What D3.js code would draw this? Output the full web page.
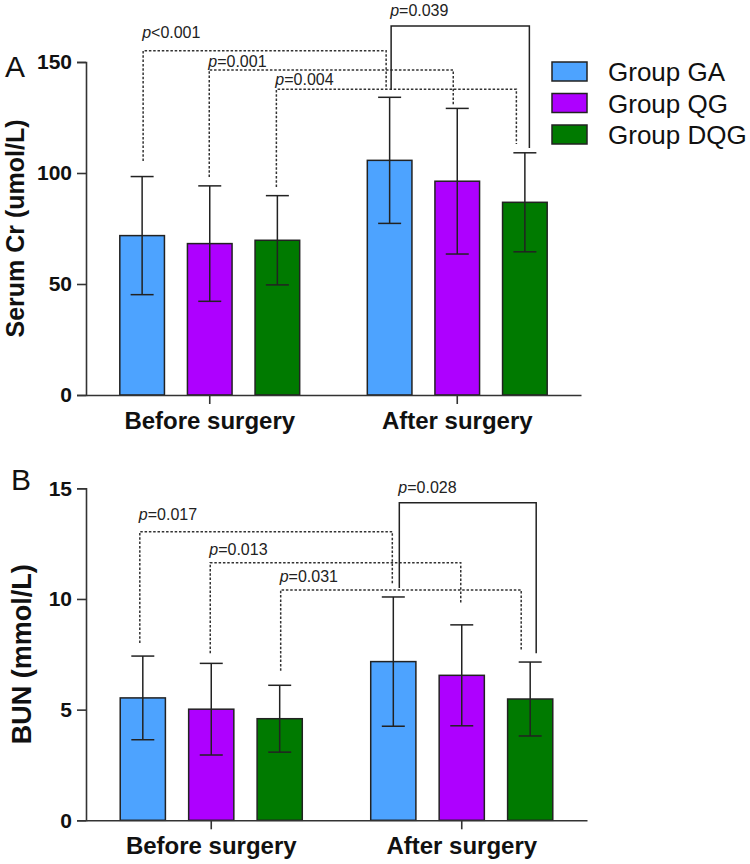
<!DOCTYPE html>
<html>
<head>
<meta charset="utf-8">
<script src="https://cdn.jsdelivr.net/npm/d3@7/dist/d3.min.js"></script>
<style>
  html, body { margin: 0; padding: 0; background: #fff; }
  svg { display: block; font-family: "Liberation Sans", Arial, sans-serif; }
</style>
</head>
<body>
<svg id="chart" width="750" height="864"></svg>
<script>
// ---------------- DATA ----------------
const categories = ["Before surgery", "After surgery"];
const groups = ["Group GA", "Group QG", "Group DQG"];
const colors = ["#4DA3FF", "#AE00FF", "#007A00"];

// Panel A: Serum Cr (umol/L), mean and SD per group, [before, after]
const crTicks = [0, 50, 100, 150];
const crGA_mean  = [71.8, 105.7];
const crQG_mean  = [68.2, 96.3];
const crDQG_mean = [69.7, 86.8];
const crGA_sd  = [26.6, 28.4];
const crQG_sd  = [26.0, 32.8];
const crDQG_sd = [20.1, 22.3];

// Panel B: BUN (mmol/L)
const bunTicks = [0, 5, 10, 15];
const bunGA_mean  = [5.53, 7.17];
const bunQG_mean  = [5.02, 6.55];
const bunDQG_mean = [4.59, 5.48];
const bunGA_sd  = [1.89, 2.92];
const bunQG_sd  = [2.07, 2.28];
const bunDQG_sd = [1.51, 1.67];

// Significance brackets: [cat, group] endpoints, top value, left/right bottom values, label value
const crBrackets = [
  { label: "<0.001", from: [0, 0], to: [1, 0], top: 155.1, leftEnd: 105.4, rightEnd: 137.8, labelAt: 160.8, dashed: true },
  { label: "=0.001", from: [0, 1], to: [1, 1], top: 146.4, leftEnd: 98.2,  rightEnd: 130.6, labelAt: 147.7, dashed: true },
  { label: "=0.004", from: [0, 2], to: [1, 2], top: 137.7, leftEnd: 93.7,  rightEnd: 113.1, labelAt: 139.6, dashed: true },
  { label: "=0.039", from: [1, 0], to: [1, 2], top: 166.2, leftEnd: 137.4, rightEnd: 111.3, labelAt: 170.7, dashed: false }
];
const bunBrackets = [
  { label: "=0.017", from: [0, 0], to: [1, 0], top: 13.04, leftEnd: 8.01, rightEnd: 10.68, labelAt: 13.57, dashed: true },
  { label: "=0.013", from: [0, 1], to: [1, 1], top: 11.64, leftEnd: 7.55, rightEnd: 9.80,  labelAt: 11.99, dashed: true },
  { label: "=0.031", from: [0, 2], to: [1, 2], top: 10.41, leftEnd: 6.76, rightEnd: 7.72,  labelAt: 10.78, dashed: true },
  { label: "=0.028", from: [1, 0], to: [1, 2], top: 14.35, leftEnd: 10.50, rightEnd: 7.55, labelAt: 14.79, dashed: false }
];

// ---------------- STYLE / LAYOUT ----------------
// small horizontal nudges (px) of bracket legs relative to bar centres
const crNudge  = [[1, -3.5], [-0.5, -4], [-1, -8.5], [1.5, 4.5]];
const bunNudge = [[-3, -1], [-1, -1], [1, -9], [6, 6]];

const svg = d3.select("#chart");
const INK = "#222";

function drawPanel(cfg) {
  const g = svg.append("g");
  const y = d3.scaleLinear().domain(cfg.domain).range([cfg.y0, cfg.y1]);
  const x0 = d3.scaleBand().domain(categories).range([cfg.xl, cfg.xr]).paddingInner(0).paddingOuter(0);
  const x1 = d3.scaleBand().domain(groups).range([0, x0.bandwidth()]).paddingInner(0.34).paddingOuter(0.5);

  const rows = [];
  categories.forEach((c, ci) => {
    groups.forEach((gr, gi) => {
      rows.push({ c, ci, gr, gi, mean: cfg.means[gi][ci], sd: cfg.sds[gi][ci] });
    });
  });
  const cx = (ci, gi) => x0(categories[ci]) + x1(groups[gi]) + x1.bandwidth() / 2;

  // bars
  g.selectAll("rect.bar").data(rows).join("rect")
    .attr("class", "bar")
    .attr("x", d => x0(d.c) + x1(d.gr))
    .attr("width", x1.bandwidth())
    .attr("y", d => y(d.mean))
    .attr("height", d => y(0) - y(d.mean))
    .attr("fill", d => colors[d.gi])
    .attr("stroke", INK)
    .attr("stroke-width", 1.5);

  // error bars
  const cap = 11.5;
  const eb = g.selectAll("g.eb").data(rows).join("g").attr("class", "eb")
    .attr("stroke", INK).attr("stroke-width", 1.5);
  eb.append("line")
    .attr("x1", d => cx(d.ci, d.gi)).attr("x2", d => cx(d.ci, d.gi))
    .attr("y1", d => y(d.mean - d.sd)).attr("y2", d => y(d.mean + d.sd));
  eb.append("line")
    .attr("x1", d => cx(d.ci, d.gi) - cap).attr("x2", d => cx(d.ci, d.gi) + cap)
    .attr("y1", d => y(d.mean + d.sd)).attr("y2", d => y(d.mean + d.sd));
  eb.append("line")
    .attr("x1", d => cx(d.ci, d.gi) - cap).attr("x2", d => cx(d.ci, d.gi) + cap)
    .attr("y1", d => y(d.mean - d.sd)).attr("y2", d => y(d.mean - d.sd));

  // y axis
  const yAxis = g.append("g").attr("transform", `translate(${cfg.xl},0)`)
    .call(d3.axisLeft(y).tickValues(cfg.ticks).tickSize(9).tickPadding(5).tickFormat(d3.format("d")));
  yAxis.select(".domain").attr("stroke", "#333").attr("stroke-width", 1.6);
  yAxis.selectAll(".tick line").attr("stroke", "#333").attr("stroke-width", 1.6);
  yAxis.selectAll(".tick text").attr("font-size", 21).attr("font-weight", "bold")
    .attr("fill", "#111").attr("font-family", "Liberation Sans, Arial, sans-serif");

  // x axis
  const xAxis = g.append("g").attr("transform", `translate(0,${cfg.y0})`)
    .call(d3.axisBottom(x0).tickSize(9).tickSizeOuter(0).tickPadding(0).tickFormat(""));
  xAxis.select(".domain").attr("stroke", "#333").attr("stroke-width", 1.6);
  xAxis.selectAll(".tick line").attr("stroke", "#333").attr("stroke-width", 1.6);
  g.selectAll("text.xl").data(categories).join("text")
    .attr("class", "xl")
    .attr("x", d => x0(d) + x0.bandwidth() / 2)
    .attr("y", cfg.xLabelY)
    .attr("text-anchor", "middle")
    .attr("font-size", 24).attr("font-weight", "bold").attr("fill", "#111")
    .text(d => d);

  // y title
  g.append("text")
    .attr("transform", `translate(${cfg.titleX},${(cfg.y0 + cfg.y1) / 2}) rotate(-90)`)
    .attr("text-anchor", "middle")
    .attr("font-size", cfg.titleSize).attr("font-weight", "bold").attr("fill", "#111")
    .text(cfg.title);

  // panel letter
  g.append("text").attr("x", cfg.letterX).attr("y", cfg.letterY)
    .attr("font-size", 30).attr("fill", "#111").text(cfg.letter);

  // brackets
  cfg.brackets.forEach((b, i) => {
    const xa = cx(b.from[0], b.from[1]) + cfg.nudge[i][0];
    const xb = cx(b.to[0], b.to[1]) + cfg.nudge[i][1];
    const path = d3.path();
    path.moveTo(xa, y(b.leftEnd));
    path.lineTo(xa, y(b.top));
    path.lineTo(xb, y(b.top));
    path.lineTo(xb, y(b.rightEnd));
    g.append("path").attr("d", path.toString())
      .attr("fill", "none")
      .attr("stroke", b.dashed ? "#333" : INK)
      .attr("stroke-width", 1.5)
      .attr("stroke-dasharray", b.dashed ? "2.5,1.8" : null);
    const t = g.append("text").attr("x", xa - 1).attr("y", y(b.labelAt))
      .attr("font-size", 16).attr("fill", "#222");
    t.append("tspan").attr("font-style", "italic").text("p");
    t.append("tspan").text(b.label);
  });
}

drawPanel({
  domain: [0, 150], y0: 395, y1: 62, xl: 86, xr: 581,
  ticks: crTicks,
  means: [crGA_mean, crQG_mean, crDQG_mean],
  sds: [crGA_sd, crQG_sd, crDQG_sd],
  xLabelY: 428.5,
  title: "Serum Cr (umol/L)", titleX: 24, titleSize: 25,
  letter: "A", letterX: 5, letterY: 77,
  brackets: crBrackets, nudge: crNudge
});

drawPanel({
  domain: [0, 15], y0: 820.3, y1: 488.3, xl: 86, xr: 587,
  ticks: bunTicks,
  means: [bunGA_mean, bunQG_mean, bunDQG_mean],
  sds: [bunGA_sd, bunQG_sd, bunDQG_sd],
  xLabelY: 854,
  title: "BUN (mmol/L)", titleX: 31, titleSize: 27,
  letter: "B", letterX: 11, letterY: 490,
  brackets: bunBrackets, nudge: bunNudge
});

// legend
const legend = svg.append("g");
const leg = legend.selectAll("g").data(groups).join("g")
  .attr("transform", (d, i) => `translate(552,${62 + i * 31.5})`);
leg.append("rect").attr("width", 35).attr("height", 19)
  .attr("fill", (d, i) => colors[i]).attr("stroke", INK).attr("stroke-width", 1.5);
leg.append("text").attr("x", 56).attr("y", 19)
  .attr("font-size", 26).attr("fill", "#111").text(d => d);
</script>
</body>
</html>
